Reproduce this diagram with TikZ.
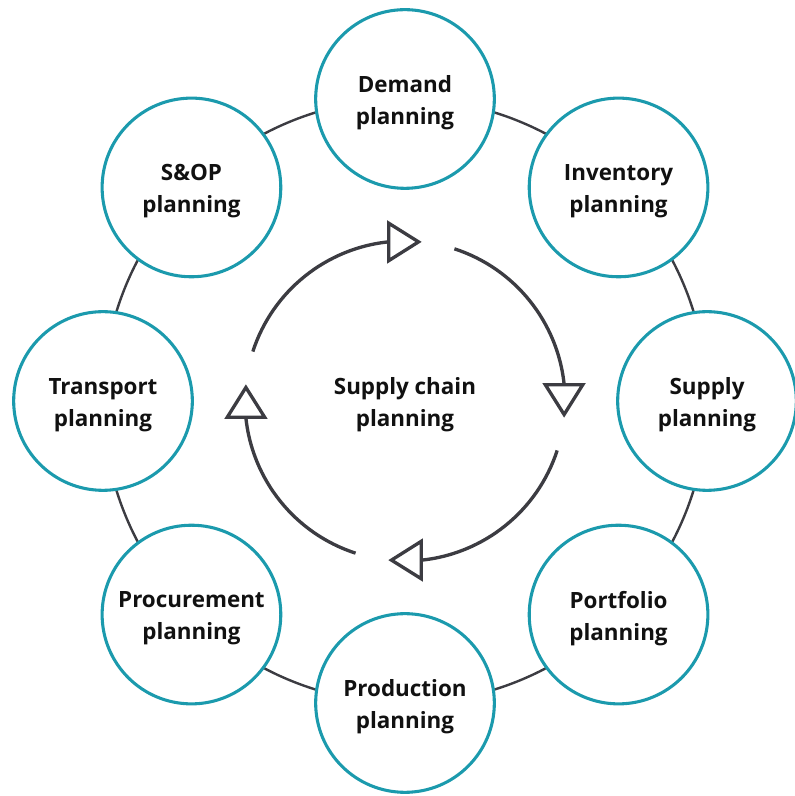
\documentclass[tikz,border=0pt]{standalone}
\usepackage{fontspec}
\setmainfont{Open Sans}
\usetikzlibrary{arrows.meta,bending}
\definecolor{planteal}{HTML}{1B9AAD}
\definecolor{plangray}{HTML}{3C3C42}
\definecolor{plantext}{HTML}{111111}
\def\planfont{\fontsize{16.8pt}{24pt}\selectfont\bfseries}

\begin{document}
\begin{tikzpicture}[x=0.75pt,y=0.75pt,
			plan/.style={circle, draw=planteal, fill=white, line width=2.3pt,
				minimum size=134pt, inner sep=0pt},
			plantag/.style={align=center, text=plantext, font=\planfont, yshift=-3pt},
			ringline/.style={draw=plangray, line width=1.8pt},
			cycle/.style={draw=plangray, line width=2.5pt,
				-{Triangle[open, length=26pt, width=32pt]}}]
			\useasboundingbox (0,0) rectangle (794,796);
			\coordinate (hub) at (405,395);
			% outer ring behind the planning circles
			\draw[ringline] (hub) circle[radius=302];
			\node[plan, label={[plantag]center:Demand\\planning}] (demand) at ([shift={(90:302)}]hub) {};
			\node[plan, label={[plantag]center:Inventory\\planning}] (inventory) at ([shift={(45:302)}]hub) {};
			\node[plan, label={[plantag]center:Supply\\planning}] (supply) at ([shift={(0:302)}]hub) {};
			\node[plan, label={[plantag]center:Portfolio\\planning}] (portfolio) at ([shift={(-45:302)}]hub) {};
			\node[plan, label={[plantag]center:Production\\planning}] (production) at ([shift={(-90:302)}]hub) {};
			\node[plan, label={[plantag]center:Procurement\\planning}] (procurement) at ([shift={(-135:302)}]hub) {};
			\node[plan, label={[plantag]center:Transport\\planning}] (transport) at ([shift={(180:302)}]hub) {};
			\node[plan, label={[plantag]center:S\&OP\\planning}] (sop) at ([shift={(135:302)}]hub) {};
			% inner cycle
			\node[plantag] (chain) at (hub) {Supply chain\\planning};
			\draw[cycle] ([shift={(162:160)}]hub) arc[start angle=162, end angle=84, radius=160];
			\draw[cycle] ([shift={(72:160)}]hub) arc[start angle=72, end angle=-6, radius=160];
			\draw[cycle] ([shift={(-18:160)}]hub) arc[start angle=-18, end angle=-96, radius=160];
			\draw[cycle] ([shift={(-108:160)}]hub) arc[start angle=-108, end angle=-186, radius=160];
		\end{tikzpicture}
\end{document}
